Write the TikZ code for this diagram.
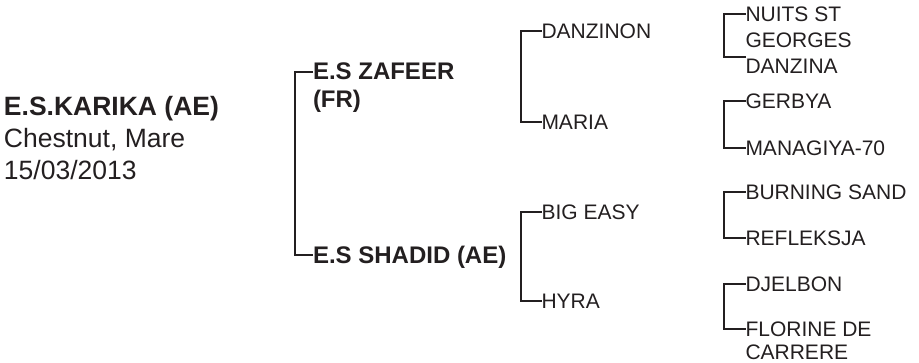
\documentclass[tikz,border=0pt]{standalone}
\usepackage{fontspec}
\setmainfont{Liberation Sans}
\usetikzlibrary{calc}
\definecolor{ink}{RGB}{35,31,32}
\begin{document}
\begin{tikzpicture}[x=1pt,y=-1pt,
  every node/.style={inner sep=0pt, outer sep=0pt, anchor=base west, text=ink, align=left},
  rootname/.style={font=\fontsize{26.5}{32}\selectfont\bfseries},
  rootinfo/.style={font=\fontsize{26.5}{32}\selectfont},
  gone/.style={font=\fontsize{24}{28}\selectfont\bfseries},
  gtwo/.style={font=\fontsize{21}{25}\selectfont},
  gthree/.style={font=\fontsize{21}{25}\selectfont},
  brk/.style={draw=ink, line width=2pt}]
\useasboundingbox (0,0) rectangle (919,363);
% subject
\node[rootname] (root) at (4,116) {E.S.KARIKA (AE)};
\node[rootinfo] (coat) at (4,147.5) {Chestnut, Mare};
\node[rootinfo] (dob) at (4,179.5) {15/03/2013};
% generation 1 (base anchor of a two-line node is on its last line)
\node[gone] (sire) at (313,108) {E.S ZAFEER\\(FR)};
\node[gone] (dam) at (313,264) {E.S SHADID (AE)};
% generation 2
\node[gtwo] (danzinon) at (541.5,38.3) {DANZINON};
\node[gtwo] (maria) at (541.5,130) {MARIA};
\node[gtwo] (bigeasy) at (541.5,219.3) {BIG EASY};
\node[gtwo] (hyra) at (541.5,309) {HYRA};
% generation 3
\node[gthree, font=\fontsize{21}{26}\selectfont] (nuits) at (745.5,47.5) {NUITS ST\\GEORGES};
\node[gthree] (danzina) at (745.5,74) {DANZINA};
\node[gthree] (gerbya) at (745.5,108.5) {GERBYA};
\node[gthree] (managiya) at (745.5,156) {MANAGIYA-70};
\node[gthree] (burning) at (745.5,200) {BURNING SAND};
\node[gthree] (refleksja) at (745.5,245.5) {REFLEKSJA};
\node[gthree] (djelbon) at (745.5,292) {DJELBON};
\node[gthree, font=\fontsize{21}{23}\selectfont] (florine) at (745.5,360) {FLORINE DE\\CARRERE};
% brackets
\draw[brk] ($(sire.base west)+(0,-35.8)$) -- ++(-18,0) |- ($(dam.base west)+(0,-8.8)$);
\draw[brk] ($(danzinon.base west)+(0,-7.5)$) -- ++(-20.5,0) |- ($(maria.base west)+(0,-7.5)$);
\draw[brk] ($(bigeasy.base west)+(0,-7.5)$) -- ++(-20.5,0) |- ($(hyra.base west)+(0,-7.5)$);
\draw[brk] ($(nuits.base west)+(0,-33.8)$) -- ++(-22,0) |- ($(danzina.base west)+(0,-17.3)$);
\draw[brk] ($(gerbya.base west)+(0,-7.5)$) -- ++(-22,0) |- ($(managiya.base west)+(0,-7.5)$);
\draw[brk] ($(burning.base west)+(0,-7.8)$) -- ++(-22,0) |- ($(refleksja.base west)+(0,-7.5)$);
\draw[brk] ($(djelbon.base west)+(0,-8)$) -- ++(-22,0) |- ($(florine.base west)+(0,-30.5)$);
\end{tikzpicture}
\end{document}
